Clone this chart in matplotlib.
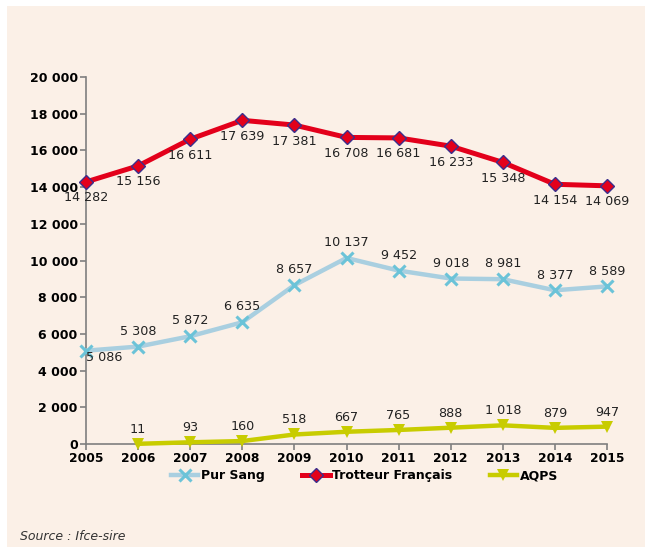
import matplotlib
matplotlib.use('Agg')
import matplotlib.pyplot as plt
from matplotlib.patches import Rectangle

years = [2005, 2006, 2007, 2008, 2009, 2010, 2011, 2012, 2013, 2014, 2015]
pur_sang = [5086, 5308, 5872, 6635, 8657, 10137, 9452, 9018, 8981, 8377, 8589]
trotteur = [14282, 15156, 16611, 17639, 17381, 16708, 16681, 16233, 15348, 14154, 14069]
aqps_years = [2006, 2007, 2008, 2009, 2010, 2011, 2012, 2013, 2014, 2015]
aqps = [11, 93, 160, 518, 667, 765, 888, 1018, 879, 947]
yticks = [0, 2000, 4000, 6000, 8000, 10000, 12000, 14000, 16000, 18000, 20000]

bg = '#FBF0E7'

def fmt(v):
    return f"{v:,}".replace(",", " ")

fig = plt.figure(figsize=(6.45, 5.47), dpi=100)
fig.patch.set_facecolor('white')
fig.patches.append(Rectangle((7 / 645, 0), 1, 1 - 6 / 547, transform=fig.transFigure,
                             facecolor=bg, edgecolor='none', zorder=-10))

ax = fig.add_axes([86 / 645, 103 / 547, (607 - 86) / 645, (444 - 77) / 547])
ax.set_facecolor(bg)

l1, = ax.plot(years, pur_sang, color='#A9CFE0', lw=3.2, marker='x', ms=8, mew=2.2,
              mec='#6BC3D8', label='Pur Sang', clip_on=False, zorder=3)
l2, = ax.plot(years, trotteur, color='#E3001B', lw=3.6, marker='D', ms=7, mew=1,
              mfc='#E3001B', mec='#3B2E8C', label='Trotteur Français', clip_on=False, zorder=3)
l3, = ax.plot(aqps_years, aqps, color='#C8CC00', lw=3.2, marker='v', ms=8, mew=0,
              mfc='#C8CC00', label='AQPS', clip_on=False, zorder=3)

lab = dict(ha='center', va='center', fontsize=9.2, color='#222222', textcoords='offset points')
for x, v in zip(years, trotteur):
    ax.annotate(fmt(v), (x, v), xytext=(0, -11.5), **lab)
for i, (x, v) in enumerate(zip(years, pur_sang)):
    off = (13, -5) if i == 0 else (0, 11)
    ax.annotate(fmt(v), (x, v), xytext=off, **lab)
for x, v in zip(aqps_years, aqps):
    ax.annotate(fmt(v), (x, v), xytext=(0, 10.5), **lab)

ax.set_xlim(2005, 2015)
ax.set_ylim(0, 20000)
ax.set_xticks(years)
ax.set_xticklabels([str(y) for y in years], fontweight='bold', fontsize=8.8)
ax.set_yticks(yticks)
ax.set_yticklabels([fmt(v) for v in yticks], fontweight='bold', fontsize=9)
for s in ['top', 'right']:
    ax.spines[s].set_visible(False)
for s in ['left', 'bottom']:
    ax.spines[s].set_color('#7F7F7F')
    ax.spines[s].set_linewidth(1.2)
ax.tick_params(axis='both', color='#7F7F7F', length=4, width=1.2, pad=2)

fig.legend(handles=[l1, l2, l3], loc='center', bbox_to_anchor=(0.565, 1 - 476 / 547),
           ncol=3, frameon=False, handlelength=2.2, handletextpad=0.2, columnspacing=3.0,
           prop={'weight': 'bold', 'size': 9})

fig.text(20 / 645, 1 - 537 / 547, 'Source : Ifce-sire', fontstyle='italic', fontsize=9,
         color='#333333', va='center')

fig.savefig('out.png', dpi=100, facecolor=fig.get_facecolor())
